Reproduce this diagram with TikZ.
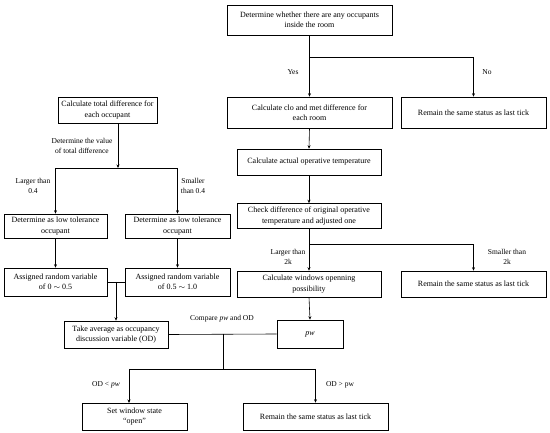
\documentclass[tikz,border=0pt]{standalone}
\usepackage{fontspec}
\setmainfont{Liberation Serif}
\usetikzlibrary{arrows.meta}
\begin{document}
\begin{tikzpicture}[x=1pt,y=-1pt,
  box/.style={draw,line width=0.6pt,align=center,inner sep=1pt,font=\fontsize{8}{10.5}\selectfont},
  lbl/.style={align=center,inner sep=0pt,font=\fontsize{7.5}{9.5}\selectfont},
  ln/.style={line width=0.6pt},
  arr/.style={line width=0.6pt,-{Stealth[length=3.5pt,width=3pt]}}]
\useasboundingbox (0,0) rectangle (550,433);
% boxes
\node[box,minimum width=165pt,minimum height=30pt] (A) at (309.5,20) {Determine whether there are any occupants\\inside the room};
\node[box,minimum width=165pt,minimum height=31pt] (B) at (309.5,112.5) {Calculate clo and met difference for\\each room};
\node[box,minimum width=145pt,minimum height=31pt] (C) at (473.5,112.5) {Remain the same status as last tick};
\node[box,minimum width=144pt,minimum height=26pt] (D) at (309,162) {Calculate actual operative temperature};
\node[box,minimum width=144pt,minimum height=25pt] (E) at (309,216) {Check difference of original operative\\temperature and adjusted one};
\node[box,minimum width=144pt,minimum height=26pt] (F) at (309,284) {Calculate windows openning\\possibility};
\node[box,minimum width=145pt,minimum height=26pt] (G) at (473.5,284) {Remain the same status as last tick};
\node[box,minimum width=66pt,minimum height=28pt] (H) at (310,334) {\textit{pw}};
\node[box,minimum width=99pt,minimum height=26pt] (I) at (107.5,110) {Calculate total difference for\\each occupant};
\node[box,minimum width=103pt,minimum height=24pt] (J) at (55.5,226) {Determine as low tolerance\\occupant};
\node[box,minimum width=105pt,minimum height=24pt] (K) at (177.5,226) {Determine as low tolerance\\occupant};
\node[box,minimum width=103pt,minimum height=28pt] (L) at (55.5,282) {Assigned random variable\\of 0 $\sim$ 0.5};
\node[box,minimum width=105pt,minimum height=28pt] (M) at (177.5,282) {Assigned random variable\\of 0.5 $\sim$ 1.0};
\node[box,minimum width=104pt,minimum height=27pt] (N) at (116,334.5) {Take average as occupancy\\discussion variable (OD)};
\node[box,minimum width=105pt,minimum height=27pt] (O) at (134.5,416.5) {Set window state\\``open''};
\node[box,minimum width=145pt,minimum height=27pt] (P) at (315.5,416.5) {Remain the same status as last tick};
% junctions
\coordinate (j1) at (309.5,57);
\coordinate (j2) at (309,244);
\coordinate (j3) at (118,168);
\coordinate (j4) at (116,282);
\coordinate (j5) at (223,334);
\coordinate (j6) at (223,369);
\coordinate (oL) at (129,369);
\coordinate (oR) at (315.5,369);
\coordinate (oT) at (129,403);
% connectors
\draw[ln] (A.south) -- (j1);
\draw[arr] (j1) -- (B.north);
\draw[arr] (j1) -| (C.north);
\draw[arr] (B.south) -- (D.north);
\draw[arr] (D.south) -- (E.north);
\draw[ln] (E.south) -- (j2);
\draw[arr] (j2) -- (F.north);
\draw[arr] (j2) -| (G.north);
\draw[arr] (F.south) -- (H.north);
\draw[arr] (I.south -| j3) -- (j3);
\draw[arr] (j3) -| (J.north);
\draw[arr] (j3) -| (K.north);
\draw[arr] (J.south) -- (L.north);
\draw[arr] (K.south) -- (M.north);
\draw[ln] (L.east |- j4) -- (M.west |- j4);
\draw[arr] (j4) -- (N.north);
\draw[ln] (N.east) -- (H.west);
\draw[ln] (j5) -- (j6);
\draw[ln] (oL) -- (oR);
\draw[arr] (oL) -- (oT);
\draw[arr] (oR) -- (P.north);
% labels
\node[lbl] (yes) at (293,72) {Yes};
\node[lbl] (no) at (487,72) {No};
\node[lbl] (l2k) at (288,257) {Larger than\\2k};
\node[lbl] (s2k) at (507,257) {Smaller than\\2k};
\node[lbl] (dv) at (82,146) {Determine the value\\of total difference};
\node[lbl] (l04) at (33,186) {Larger than\\0.4};
\node[lbl] (s04) at (193,186) {Smaller\\than 0.4};
\node[lbl] (cmp) at (222,319) {Compare \textit{pw} and OD};
\node[lbl] (odl) at (106,385) {OD < \textit{pw}};
\node[lbl] (odg) at (340,385) {OD > pw};
\end{tikzpicture}
\end{document}
